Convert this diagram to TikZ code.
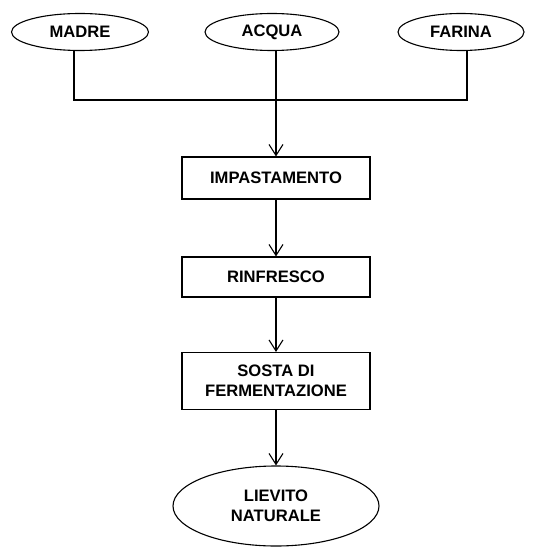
\documentclass[tikz,border=0pt]{standalone}
\usepackage{fontspec}
\setmainfont{Liberation Sans}
\usetikzlibrary{shapes.geometric,arrows.meta}
\begin{document}
\begin{tikzpicture}[x=1pt,y=-1pt,
  every node/.style={font=\fontsize{16.6}{20}\selectfont\bfseries, line width=1.1pt, inner sep=0pt, align=center},
  oval/.style={draw, ellipse, minimum height=37pt},
  stepbox/.style={draw, rectangle, minimum width=188pt},
  conn/.style={line width=1.1pt},
  arr/.style={conn, -{Straight Barb[length=11pt,width=14pt,line width=1.1pt]}}]
\useasboundingbox (0,0) rectangle (540,548);
\node[oval, minimum width=137pt] (madre) at (80,32) {MADRE};
\node[oval, minimum width=134pt] (acqua) at (272,32) {ACQUA};
\node[oval, minimum width=126pt] (farina) at (461,32) {FARINA};
\node[stepbox, minimum height=42pt] (imp) at (276,178) {IMPASTAMENTO};
\node[stepbox, minimum height=40pt] (rin) at (276,277) {RINFRESCO};
\node[stepbox, minimum height=57pt] (sosta) at (276,381) {SOSTA DI\\FERMENTAZIONE};
\node[oval, minimum width=206pt, minimum height=80pt] (lievito) at (276,506) {LIEVITO\\NATURALE};
\coordinate (hub) at (276,100);
\draw[conn] ([xshift=-6pt]madre.south) |- (hub) -| ([xshift=6pt]farina.south);
\draw[conn] ([xshift=4pt]acqua.south) -- (hub);
\draw[arr] (hub) -- (imp.north);
\draw[arr] (imp.south) -- (rin.north);
\draw[arr] (rin.south) -- (sosta.north);
\draw[arr] (sosta.south) -- (lievito.north);
\end{tikzpicture}
\end{document}
